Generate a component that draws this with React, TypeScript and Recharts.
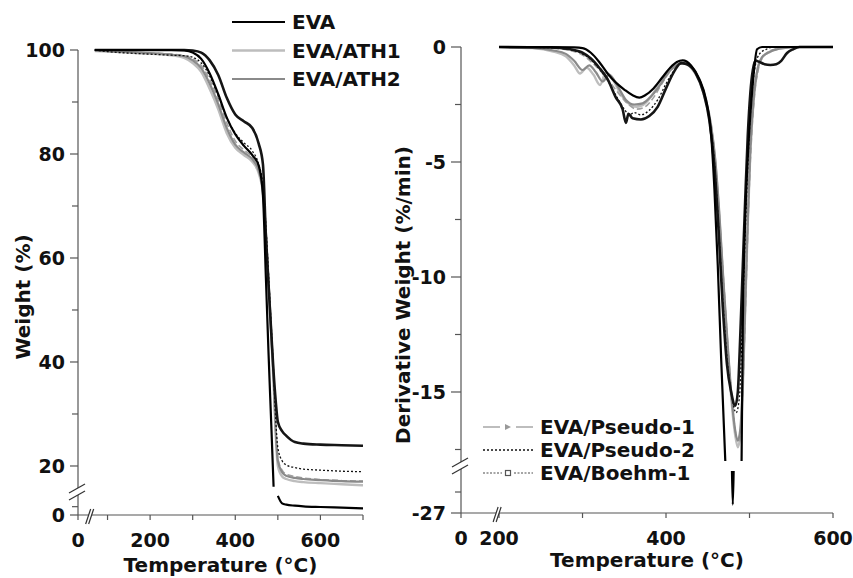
import React from "react";
import { LineChart, Line, XAxis, YAxis, Legend } from "recharts";

const FONT = '"DejaVu Sans", "Liberation Sans", Arial, sans-serif';

// ---------- TGA (left panel) ----------
const tgaTemp = [70, 100, 150, 200, 250, 280, 300, 320, 340, 360, 380, 400, 420, 440, 455, 465, 472, 478, 485, 490, 495, 500, 510, 520, 540, 560, 600, 650, 700];
const tgaEva = [100, 100, 100, 100, 100, 99.9, 99.5, 98.3, 95.5, 91.5, 87, 83.8, 81.6, 79.8, 77.8, 72, 56, 42, 27, 16, null, 11.5, 7, 6.2, 5.6, 5.2, 4.8, 4.4, 4];
const tgaAth1 = [99.8, 99.7, 99.5, 99.3, 99, 98.5, 97.5, 95.8, 92.5, 88.6, 84, 81.2, 79.8, 78.5, 76.3, 72.5, 64, 55, 44, 36, 26, 20, 18, 17.5, 17.1, 16.9, 16.7, 16.5, 16.3];
const tgaAth2 = [100, 99.8, 99.6, 99.4, 99.1, 98.8, 98, 96.5, 93.5, 89.6, 85, 81.8, 80.3, 79, 76.8, 73, 65, 56, 45, 37, 27, 21, 18.8, 18.1, 17.7, 17.5, 17.3, 17.1, 17];
const tgaPseudo1 = [100, 99.8, 99.6, 99.4, 99.2, 98.9, 98.3, 97, 94.3, 90.5, 86, 82.5, 80.8, 79.4, 77.2, 73.5, 65.5, 56.5, 45.5, 37.5, 27.5, 21.5, 19.2, 18.4, 18, 17.7, 17.4, 17.2, 17.1];
const tgaPseudo2 = [100, 99.7, 99.4, 99.2, 99, 98.9, 98.6, 97.5, 95, 91.2, 87, 84, 82.2, 80.6, 78, 74, 66, 57, 46, 38, 29, 23.5, 21, 20.2, 19.7, 19.4, 19.2, 19, 18.9];
const tgaBoehm1 = [100, 100, 100, 100, 100, 100, 99.9, 99.5, 98, 95.2, 90.8, 87.6, 86.3, 85, 82, 78, 64, 55, 45, 38, 32.5, 28.5, 26.7, 25.8, 24.6, 24.3, 24.1, 24, 23.9];

// ---------- DTG (right panel) ----------
const dtgEvaT = [200, 260, 290, 300, 310, 320, 330, 340, 350, 360, 368, 375, 385, 395, 405, 413, 420, 430, 440, 448, 454, 458, 462, 466, 471, 475, 479, 480, 481, 486, 490.5, 492, 494, 497, 500, 503, 506, 509, 515, 600];
const dtgEvaV = [0, 0, -0.02, -0.05, -0.25, -0.65, -1.15, -1.55, -1.85, -2.1, -2.2, -2.1, -1.8, -1.35, -0.9, -0.65, -0.58, -0.8, -1.4, -2.3, -3.8, -6.2, -9.5, -13.5, -18, null, -23, -26.2, -23, null, -18, -12, -8.5, -5.5, -3.5, -2, -0.8, -0.1, 0, 0];
const dtgBoehm1T = [200, 260, 285, 300, 310, 320, 330, 340, 348, 352, 355, 360, 370, 380, 390, 400, 410, 418, 425, 435, 445, 452, 458, 463, 468, 473, 478, 483, 486, 489, 492, 495, 498, 501, 504, 507, 512, 518, 525, 532, 538, 545, 552, 560, 600];
const dtgBoehm1V = [0, -0.02, -0.1, -0.25, -0.5, -0.9, -1.4, -2.2, -2.7, -3.3, -2.9, -3.1, -3.15, -3.0, -2.6, -1.8, -1.05, -0.7, -0.75, -1.1, -2.0, -3.2, -5.2, -8, -11.3, -13.8, -15.0, -15.6, -15.0, -12.5, -9.5, -6.5, -3.8, -2.0, -1.0, -0.6, -0.65, -0.75, -0.78, -0.75, -0.6, -0.26, -0.1, 0, 0];
const dtgPseudo2T = [200, 260, 285, 300, 310, 320, 330, 340, 350, 356, 362, 370, 380, 390, 400, 410, 418, 425, 435, 445, 452, 458, 463, 468, 473, 478, 484, 488, 491, 494, 497, 500, 503, 507, 512, 520, 530, 600];
const dtgPseudo2V = [0, -0.03, -0.12, -0.3, -0.55, -0.95, -1.45, -2.1, -2.7, -2.95, -2.85, -2.95, -2.75, -2.3, -1.6, -1.0, -0.72, -0.75, -1.1, -2.0, -3.1, -5.0, -7.8, -11, -13.5, -15.0, -15.9, -15.2, -12.5, -9, -6, -3.6, -2, -0.8, -0.3, -0.1, 0, 0];
const dtgAth1T = [200, 240, 265, 280, 290, 297, 305, 313, 321, 328, 336, 345, 355, 365, 375, 385, 395, 405, 413, 420, 430, 440, 448, 454, 459, 464, 469, 474, 479, 483, 486, 489, 492, 495, 498, 501, 505, 510, 515, 525, 540, 560, 600];
const dtgAth1V = [0, -0.05, -0.2, -0.4, -0.8, -1.15, -0.9, -1.2, -1.65, -1.1, -1.4, -2.0, -2.45, -2.6, -2.45, -2.0, -1.4, -0.95, -0.75, -0.7, -0.9, -1.5, -2.4, -3.5, -5, -7.5, -10.5, -13.2, -15.6, -16.9, -17.4, -16.9, -14.8, -11.2, -7.6, -4.6, -2.3, -0.9, -0.45, -0.2, -0.05, 0, 0];
const dtgAth2T = [200, 240, 265, 280, 290, 300, 308, 316, 324, 332, 342, 352, 362, 372, 382, 392, 402, 412, 420, 430, 440, 448, 454, 459, 464, 469, 474, 479, 483, 486, 489, 492, 495, 498, 501, 505, 510, 515, 525, 540, 560, 600];
const dtgAth2V = [0, -0.04, -0.15, -0.3, -0.6, -1.0, -0.8, -1.1, -1.5, -1.2, -1.7, -2.3, -2.5, -2.45, -2.15, -1.7, -1.15, -0.8, -0.7, -0.85, -1.45, -2.3, -3.4, -4.9, -7.3, -10.3, -13, -15.4, -16.7, -17.1, -16.6, -14.5, -11, -7.4, -4.4, -2.2, -0.9, -0.45, -0.2, -0.05, 0, 0];
const dtgPseudo1T = [200, 260, 285, 300, 315, 330, 345, 355, 365, 375, 385, 395, 405, 413, 420, 430, 440, 448, 454, 459, 464, 469, 474, 479, 483, 487, 490, 493, 496, 499, 502, 506, 511, 518, 530, 550, 600];
const dtgPseudo1V = [0, -0.04, -0.15, -0.35, -0.8, -1.4, -2.1, -2.5, -2.7, -2.6, -2.2, -1.6, -1.05, -0.8, -0.72, -0.9, -1.5, -2.4, -3.5, -5.0, -7.4, -10.2, -13, -15.3, -16.7, -17.2, -16.4, -13.8, -10.3, -6.8, -4.2, -2.1, -0.9, -0.35, -0.1, 0, 0];

// ---------- ticks ----------
const tgaXTicks = [0, 100, 200, 300, 400, 500, 600, 700];
const tgaXLabels = [0, 200, 400, 600];
const tgaXBreak = 58;
const tgaYTicks = [0, 5, 20, 30, 40, 50, 60, 70, 80, 90, 100];
const tgaYLabels = [0, 20, 40, 60, 80, 100];
const tgaYBreak = 15;
const dtgXTicks = [0, 200, 300, 400, 500, 600];
const dtgXLabels = [0, 200, 400, 600];
const dtgXBreak = 190;
const dtgYTicks = [-27, -25, -17.5, -15, -12.5, -10, -7.5, -5, -2.5, 0];
const dtgYLabels = [-27, -15, -10, -5, 0];
const dtgYBreak = -20.5;

// ---------- styles ----------
const styles: Record<string, { stroke: string; width: number; dash?: string }> = {
  EVA: { stroke: "#000", width: 2.2 },
  "EVA/ATH1": { stroke: "#bdbdbd", width: 2.4 },
  "EVA/ATH2": { stroke: "#8a8a8a", width: 2.2 },
  "EVA/Pseudo-1": { stroke: "#a0a0a0", width: 1.6, dash: "6 3" },
  "EVA/Pseudo-2": { stroke: "#111", width: 1.3, dash: "2 2" },
  "EVA/Boehm-1": { stroke: "#151515", width: 2.6 },
};

const zip = (xs: number[], ys: (number | null)[]) => xs.map((t, i) => ({ t, v: ys[i] }));

const tgaSeries = [
  { name: "EVA/ATH1", data: zip(tgaTemp, tgaAth1) },
  { name: "EVA/Pseudo-1", data: zip(tgaTemp, tgaPseudo1) },
  { name: "EVA/ATH2", data: zip(tgaTemp, tgaAth2) },
  { name: "EVA/Pseudo-2", data: zip(tgaTemp, tgaPseudo2) },
  { name: "EVA/Boehm-1", data: zip(tgaTemp, tgaBoehm1) },
  { name: "EVA", data: zip(tgaTemp, tgaEva) },
];

const dtgSeries = [
  { name: "EVA/ATH1", data: zip(dtgAth1T, dtgAth1V) },
  { name: "EVA/Pseudo-1", data: zip(dtgPseudo1T, dtgPseudo1V) },
  { name: "EVA/ATH2", data: zip(dtgAth2T, dtgAth2V) },
  { name: "EVA/Pseudo-2", data: zip(dtgPseudo2T, dtgPseudo2V) },
  { name: "EVA/Boehm-1", data: zip(dtgBoehm1T, dtgBoehm1V) },
  { name: "EVA", data: zip(dtgEvaT, dtgEvaV) },
];

// piecewise linear scale for the broken axes
function brokenScale(stops: number[], fracs: number[], r: number[] = [0, 1]): any {
  let range = r.slice();
  const s: any = (v: number) => {
    if (v === null || v === undefined || Number.isNaN(+v)) return undefined;
    let i = 0;
    while (i < stops.length - 2 && v > stops[i + 1]) i++;
    const f = fracs[i] + ((v - stops[i]) / (stops[i + 1] - stops[i])) * (fracs[i + 1] - fracs[i]);
    return range[0] + f * (range[1] - range[0]);
  };
  s.domain = (d?: number[]) => (d ? s : [stops[0], stops[stops.length - 1]]);
  s.range = (rr?: number[]) => {
    if (rr) {
      range = [rr[0], rr[rr.length - 1]];
      return s;
    }
    return range.slice();
  };
  s.ticks = () => stops.slice();
  s.copy = () => brokenScale(stops, fracs, range);
  return s;
}

const tgaXScale = brokenScale([0, 40, 700], [0, 0.014, 1]);
const tgaYScale = brokenScale([0, 12, 14.5, 100], [0, 0.043, 0.0439, 1]);
const dtgXScale = brokenScale([0, 200, 600], [0, 0.1022, 1]);
const dtgYScale = brokenScale([-27, -23, -18, 0], [0, 0.0901, 0.1116, 1]);

const AXIS = "#555";
const textStyle = { fontFamily: FONT, fontWeight: 700, fontSize: 19, fill: "#111" };

function yTick(labels: number[], brk: number, major: number) {
  return (p: any) => {
    const { x, y, payload } = p;
    const v = payload.value;
    if (v === brk) {
      return (
        <g>
          <polygon points={`${x - 9},${y + 8} ${x + 7},${y - 1} ${x + 7},${y - 8} ${x - 9},${y + 1}`} fill="#fff" />
          <line x1={x - 9} y1={y + 8} x2={x + 7} y2={y - 1} stroke="#333" strokeWidth={1.2} />
          <line x1={x - 9} y1={y + 1} x2={x + 7} y2={y - 8} stroke="#333" strokeWidth={1.2} />
        </g>
      );
    }
    const isMajor = labels.includes(v);
    return (
      <g>
        <line x1={x - (isMajor ? major : 6)} y1={y} x2={x} y2={y} stroke={AXIS} strokeWidth={1.2} />
        {isMajor && (
          <text x={x - major - 5} y={y} textAnchor="end" dominantBaseline="central" {...textStyle}>
            {String(v)}
          </text>
        )}
      </g>
    );
  };
}

function xTick(labels: number[], brk: number) {
  return (p: any) => {
    const { x, y, payload } = p;
    const v = payload.value;
    if (v === brk) {
      return (
        <g>
          <polygon points={`${x - 4},${y + 9} ${x + 1},${y - 6} ${x + 4},${y - 6} ${x - 1},${y + 9}`} fill="#fff" />
          <line x1={x - 4} y1={y + 9} x2={x + 1} y2={y - 6} stroke="#333" strokeWidth={1.2} />
          <line x1={x - 1} y1={y + 9} x2={x + 4} y2={y - 6} stroke="#333" strokeWidth={1.2} />
        </g>
      );
    }
    return (
      <g>
        <line x1={x} y1={y} x2={x} y2={y + 5} stroke={AXIS} strokeWidth={1.2} />
        {labels.includes(v) && (
          <text x={x} y={y + 32} textAnchor="middle" {...textStyle}>
            {String(v)}
          </text>
        )}
      </g>
    );
  };
}

function yTitle(text: string, dx: number, cy: number) {
  return (p: any) => {
    const vb = p.viewBox || { x: 0 };
    const x = vb.x + dx;
    return (
      <text x={x} y={cy} transform={`rotate(-90 ${x} ${cy})`} textAnchor="middle" fontFamily={FONT} fontWeight={700} fontSize={20} fill="#111">
        {text}
      </text>
    );
  };
}

function xTitle(text: string, dy: number) {
  return (p: any) => {
    const vb = p.viewBox || { x: 0, y: 0, width: 0 };
    return (
      <text x={vb.x + vb.width / 2} y={vb.y + dy} textAnchor="middle" fontFamily={FONT} fontWeight={700} fontSize={20} fill="#111">
        {text}
      </text>
    );
  };
}

type LegendItem = { name: string; marker?: "triangle" | "square" };

function LegendSvg({ items, gap, len }: { items: LegendItem[]; gap: number; len: number }) {
  return (
    <svg width={240} height={items.length * gap + 10} style={{ overflow: "visible" }}>
      {items.map((it, i) => {
        const st = styles[it.name];
        const y = 12 + i * gap;
        const mid = len / 2;
        return (
          <g key={it.name}>
            {it.marker === "triangle" ? (
              <>
                <line x1={0} x2={len} y1={y} y2={y} stroke="#a8a8a8" strokeWidth={1.6} strokeDasharray={`${mid - 8} 16`} />
                <path d={`M${mid - 3},${y - 3} L${mid + 3},${y} L${mid - 3},${y + 3} Z`} fill="#999" />
              </>
            ) : it.marker === "square" ? (
              <>
                <line x1={0} x2={mid - 6} y1={y} y2={y} stroke="#888" strokeWidth={1.4} strokeDasharray="2 1.5" />
                <line x1={mid + 6} x2={len} y1={y} y2={y} stroke="#888" strokeWidth={1.4} strokeDasharray="2 1.5" />
                <rect x={mid - 2.5} y={y - 2.5} width={5} height={5} fill="#fff" stroke="#555" strokeWidth={1.2} />
              </>
            ) : (
              <line x1={0} x2={len} y1={y} y2={y} stroke={st.stroke} strokeWidth={st.width} strokeDasharray={st.dash} />
            )}
            <text x={len + 7} y={y} dominantBaseline="central" fontFamily={FONT} fontWeight={700} fontSize={20} fill="#111">
              {it.name}
            </text>
          </g>
        );
      })}
    </svg>
  );
}

const tgaLegend: LegendItem[] = [{ name: "EVA" }, { name: "EVA/ATH1" }, { name: "EVA/ATH2" }];
const dtgLegend: LegendItem[] = [
  { name: "EVA/Pseudo-1", marker: "triangle" },
  { name: "EVA/Pseudo-2" },
  { name: "EVA/Boehm-1", marker: "square" },
];

function renderLines(series: { name: string; data: { t: number; v: number | null }[] }[]) {
  return series.map((s) => {
    const st = styles[s.name];
    return (
      <Line
        key={s.name}
        data={s.data}
        dataKey="v"
        name={s.name}
        type="monotone"
        stroke={st.stroke}
        strokeWidth={st.width}
        strokeDasharray={st.dash}
        dot={false}
        activeDot={false}
        isAnimationActive={false}
        legendType="none"
      />
    );
  });
}

export default function App() {
  return (
    <div style={{ position: "absolute", left: 0, top: 0, width: 853, height: 578, background: "#fff", overflow: "hidden" }}>
      <div style={{ position: "absolute", left: 0, top: 0 }}>
        <LineChart width={385} height={578} margin={{ top: 50, right: 22, bottom: 33, left: 0 }}>
          <XAxis
            dataKey="t"
            type="number"
            scale={tgaXScale}
            domain={[0, 700]}
            ticks={[...tgaXTicks, tgaXBreak]}
            interval={0}
            tickSize={0}
            tickMargin={0}
            height={30}
            tick={xTick(tgaXLabels, tgaXBreak)}
            axisLine={{ stroke: AXIS, strokeWidth: 1.2 }}
            label={xTitle("Temperature (°C)", 57)}
          />
          <YAxis
            type="number"
            scale={tgaYScale}
            domain={[0, 100]}
            ticks={[...tgaYTicks, tgaYBreak]}
            interval={0}
            tickSize={0}
            tickMargin={0}
            width={78}
            tick={yTick(tgaYLabels, tgaYBreak, 8)}
            axisLine={{ stroke: AXIS, strokeWidth: 1.2 }}
            label={yTitle("Weight (%)", 30, 297)}
          />
          {renderLines(tgaSeries)}
          <Legend
            layout="horizontal"
            verticalAlign="middle"
            align="center"
            wrapperStyle={{ left: 232, top: 10, width: 200, height: 90 }}
            content={() => <LegendSvg items={tgaLegend} gap={28.5} len={53} />}
          />
        </LineChart>
      </div>
      <div style={{ position: "absolute", left: 385, top: 0 }}>
        <LineChart width={468} height={578} margin={{ top: 47, right: 20, bottom: 35, left: 0 }}>
          <XAxis
            dataKey="t"
            type="number"
            scale={dtgXScale}
            domain={[0, 600]}
            ticks={[...dtgXTicks, dtgXBreak]}
            interval={0}
            tickSize={0}
            tickMargin={0}
            height={30}
            tick={xTick(dtgXLabels, dtgXBreak)}
            axisLine={{ stroke: AXIS, strokeWidth: 1.2 }}
            label={xTitle("Temperature (°C)", 54)}
          />
          <YAxis
            type="number"
            scale={dtgYScale}
            domain={[-27, 0]}
            ticks={[...dtgYTicks, dtgYBreak]}
            interval={0}
            tickSize={0}
            tickMargin={0}
            width={76}
            tick={yTick(dtgYLabels, dtgYBreak, 10)}
            axisLine={{ stroke: AXIS, strokeWidth: 1.2 }}
            label={yTitle("Derivative Weight (%/min)", 25, 295)}
          />
          {renderLines(dtgSeries)}
          <Legend
            layout="horizontal"
            verticalAlign="middle"
            align="center"
            wrapperStyle={{ left: 98, top: 415, width: 240, height: 80 }}
            content={() => <LegendSvg items={dtgLegend} gap={23} len={50} />}
          />
        </LineChart>
      </div>
    </div>
  );
}
